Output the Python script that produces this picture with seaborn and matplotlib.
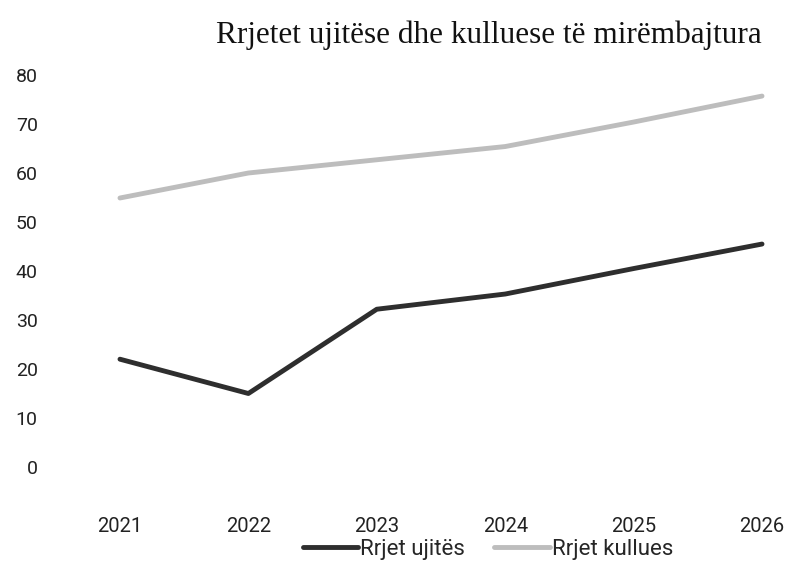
import pandas as pd
import seaborn as sns
import matplotlib.pyplot as plt

# te dhenat
years = ["2021", "2022", "2023", "2024", "2025", "2026"]
rrjet_ujites = [22, 15, 32.2, 35.3, 40.5, 45.5]
rrjet_kullues = [54.9, 60, 62.7, 65.4, 70.4, 75.7]
series_names = ["Rrjet ujitës", "Rrjet kullues"]

df = pd.DataFrame({
    "Viti": years * 2,
    "Vlera": rrjet_ujites + rrjet_kullues,
    "Seria": [series_names[0]] * len(years) + [series_names[1]] * len(years),
})

sns.set_theme(style="white")
plt.rcParams["font.family"] = ["Roboto", "DejaVu Sans"]

fig = plt.figure(figsize=(7.91, 5.62), dpi=100)
ax = fig.add_axes([60 / 791, 95 / 562, 720 / 791, 392 / 562])

sns.lineplot(
    data=df,
    x="Viti",
    y="Vlera",
    hue="Seria",
    palette=["#2e2e2e", "#bdbdbd"],
    linewidth=3.5,
    ax=ax,
)

ax.set_xlim(-0.467, 5.14)
ax.set_ylim(0, 80)
ax.set_yticks(range(0, 81, 10))
ax.set_xlabel("")
ax.set_ylabel("")
sns.despine(ax=ax, left=True, bottom=True)
ax.tick_params(axis="x", pad=36, labelsize=14.5, colors="#222222", length=0)
ax.tick_params(axis="y", pad=16, labelsize=14, colors="#222222", length=0)

fig.text(489 / 791, 1 - 35 / 562, "Rrjetet ujitëse dhe kulluese të mirëmbajtura",
         ha="center", va="center", fontsize=22.5, family="Liberation Serif",
         color="#111111")

ax.legend(
    loc="center",
    bbox_to_anchor=(488 / 791, 1 - 549 / 562),
    bbox_transform=fig.transFigure,
    ncol=2,
    frameon=False,
    handlelength=2.5,
    handletextpad=0.1,
    columnspacing=1.3,
    fontsize=16,
)

fig.savefig("out.png", dpi=100)
